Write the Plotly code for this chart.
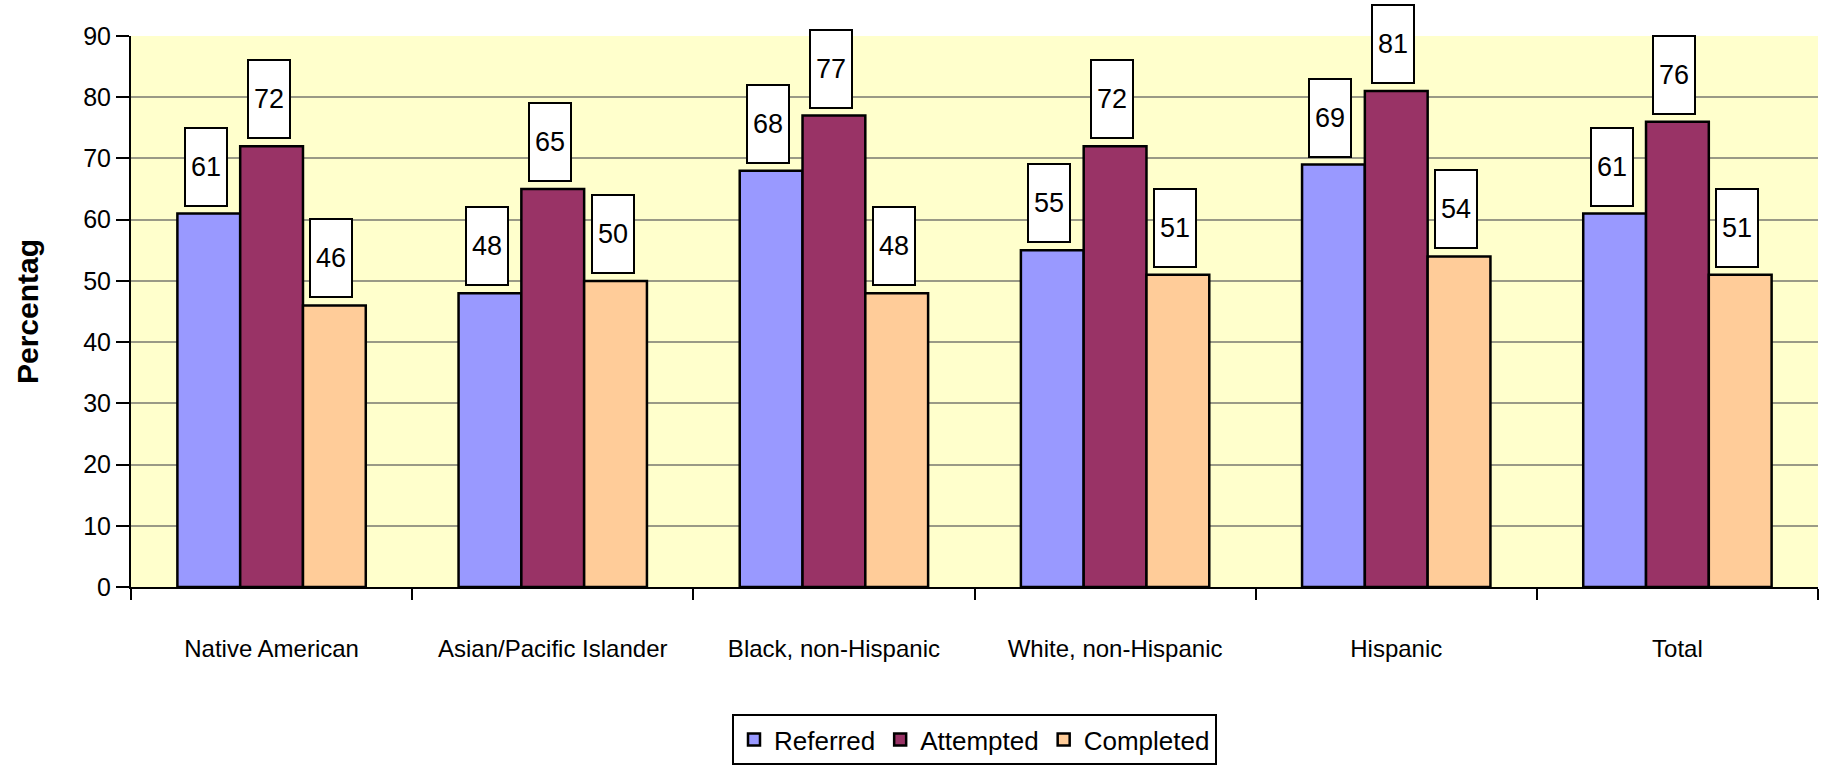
import plotly.graph_objects as go

# Share of youth by race/ethnicity at each stage
categories = ["Native American", "Asian/Pacific Islander", "Black, non-Hispanic",
              "White, non-Hispanic", "Hispanic", "Total"]
referred = [61, 48, 68, 55, 69, 61]
attempted = [72, 65, 77, 72, 81, 76]
completed = [46, 50, 48, 51, 54, 51]

series = [
    ("Referred", referred, "#9999FF"),
    ("Attempted", attempted, "#993366"),
    ("Completed", completed, "#FFCC99"),
]

FONT = "Liberation Sans, Arial, sans-serif"
BARGAP = 0.33

fig = go.Figure()
for name, vals, color in series:
    fig.add_trace(go.Bar(
        x=categories, y=vals, name=name,
        marker=dict(color=color, line=dict(color="black", width=2.5)),
    ))

# Boxed value labels above each bar
bar_w = (1 - BARGAP) / len(series)
annotations = []
for j, (name, vals, color) in enumerate(series):
    off = (j - (len(series) - 1) / 2) * bar_w
    for i, v in enumerate(vals):
        annotations.append(dict(
            x=i + off, y=v, xref="x", yref="y",
            text=str(v), showarrow=False,
            xanchor="center", yanchor="bottom", yshift=7, xshift=-3,
            width=36, height=72, borderpad=2, borderwidth=2,
            bordercolor="black", bgcolor="white",
            font=dict(family=FONT, size=27, color="black"),
        ))

fig.update_layout(
    width=1826, height=780,
    margin=dict(l=131, r=8, t=36, b=193, autoexpand=False),
    paper_bgcolor="white", plot_bgcolor="#FFFFCC",
    barmode="group", bargap=BARGAP, bargroupgap=0,
    font=dict(family=FONT, size=24, color="black"),
    annotations=annotations,
    showlegend=True,
    legend=dict(
        orientation="h", x=0.5, xanchor="center", y=-0.2305, yanchor="top",
        bordercolor="black", borderwidth=2, bgcolor="white",
        font=dict(family=FONT, size=26, color="black"),
        traceorder="normal",
    ),
)

fig.update_xaxes(
    type="category", tickson="boundaries", ticks="outside", ticklen=11,
    tickwidth=2, tickcolor="black", showline=True, linecolor="black",
    linewidth=2, showgrid=False, tickangle=0, tickfont=dict(size=24),
    ticklabelstandoff=39,
)
fig.update_yaxes(
    range=[0, 90], dtick=10, ticks="outside", ticklen=13, tickwidth=2,
    tickcolor="black", showline=True, linecolor="black", linewidth=2,
    showgrid=True, gridcolor="#9a9a86", gridwidth=1.5, zeroline=False,
    tickfont=dict(size=25),
    title=dict(text="<b>Percentag</b>", font=dict(family=FONT, size=30), standoff=36),
)

fig.write_html("out.html")
